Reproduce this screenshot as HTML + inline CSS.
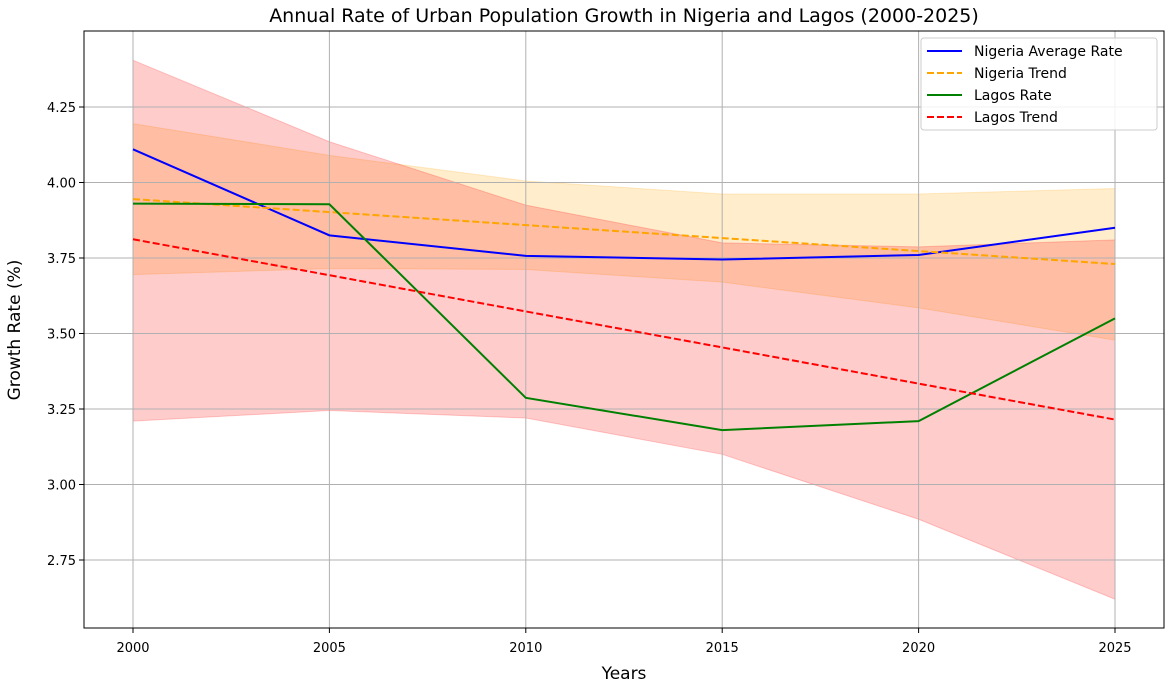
<!DOCTYPE html>
<html><head><meta charset="utf-8"><style>
body{margin:0;background:#fff;font-family:"Liberation Sans","DejaVu Sans",sans-serif}
svg text{font-family:"DejaVu Sans","Liberation Sans",sans-serif}
</style></head><body>
<svg id="chart" width="1170" height="684" xmlns="http://www.w3.org/2000/svg">
<text x="624" y="22" text-anchor="middle" font-size="19" fill="#000">Annual Rate of Urban Population Growth in Nigeria and Lagos (2000-2025)</text>
<g id="bands"></g><g id="grid"></g><g id="lines"></g>
<rect x="84" y="31" width="1080" height="597" fill="none" stroke="#000" stroke-width="1"/>
<g id="ticks"></g>
<text x="624" y="679" text-anchor="middle" font-size="17">Years</text>
<text transform="translate(20,330) rotate(-90)" text-anchor="middle" font-size="17">Growth Rate (%)</text>
<g>
<rect x="921" y="38" width="236" height="92" rx="3" fill="#fff" fill-opacity="0.85" stroke="#ccc"/>
<line x1="927" y1="51" x2="962" y2="51" stroke="#0000ff" stroke-width="2"/>
<text x="974" y="56" font-size="14">Nigeria Average Rate</text>
<line x1="927" y1="73" x2="962" y2="73" stroke="orange" stroke-width="2" stroke-dasharray="7,3"/>
<text x="974" y="78" font-size="14">Nigeria Trend</text>
<line x1="927" y1="95" x2="962" y2="95" stroke="green" stroke-width="2"/>
<text x="974" y="100" font-size="14">Lagos Rate</text>
<line x1="927" y1="117" x2="962" y2="117" stroke="red" stroke-width="2" stroke-dasharray="7,3"/>
<text x="974" y="122" font-size="14">Lagos Trend</text>
</g>
</svg>
<script>
const years=[2000,2005,2010,2015,2020,2025];
const nigeriaRate=[4.11,3.825,3.757,3.745,3.76,3.85];
const nigeriaTrend=[3.945,3.902,3.859,3.816,3.773,3.73];
const lagosRate=[3.93,3.928,3.287,3.18,3.21,3.55];
const lagosTrend=[3.812,3.693,3.573,3.454,3.334,3.215];
const nigeriaUpper=[4.195,4.09,4.005,3.962,3.962,3.98];
const nigeriaLower=[3.695,3.715,3.712,3.67,3.585,3.478];
const lagosUpper=[4.405,4.135,3.925,3.80,3.787,3.81];
const lagosLower=[3.21,3.245,3.22,3.10,2.885,2.62];
const yTicks=[2.75,3.00,3.25,3.50,3.75,4.00,4.25];
const xTicks=[2000,2005,2010,2015,2020,2025];
const NS="http://www.w3.org/2000/svg";
const X=y=>133+(y-2000)*(982/25);
const Y=v=>107+(4.25-v)*302;
function mk(tag,parent,attrs){const e=document.createElementNS(NS,tag);for(const k in attrs)e.setAttribute(k,attrs[k]);document.getElementById(parent).appendChild(e);return e;}
xTicks.forEach(t=>{
 const g=mk('line','grid',{x1:X(t),x2:X(t),y1:31,y2:628,stroke:'#b0b0b0','stroke-width':1});
 
 
 const tk=mk('line','ticks',{x1:X(t),x2:X(t),y1:628,y2:633,stroke:'#000'});
 
 
 const l=mk('text','ticks',{x:X(t),y:652,'text-anchor':'middle','font-size':13});
 l.textContent=t;
 
 
});
yTicks.forEach(t=>{
 const g=mk('line','grid',{x1:84,x2:1164,y1:Y(t),y2:Y(t),stroke:'#b0b0b0','stroke-width':1});
 
 
 const tk=mk('line','ticks',{x1:79,x2:84,y1:Y(t),y2:Y(t),stroke:'#000'});
 
 
 const l=mk('text','ticks',{x:76,y:Y(t)+5,'text-anchor':'end','font-size':13});
 l.textContent=t.toFixed(2);
 
 
});
function band(up,lo,color,name){
 let pts=years.map((y,i)=>X(y)+','+Y(up[i]));
 pts=pts.concat(years.map((y,i)=>X(y)+','+Y(lo[i])).reverse());
 const p=mk('polygon','bands',{points:pts.join(' '),fill:color,'fill-opacity':0.2,stroke:color,'stroke-opacity':0.2});
 
 
}
band(nigeriaUpper,nigeriaLower,'orange','nigeria-confidence-band');
band(lagosUpper,lagosLower,'red','lagos-confidence-band');
function line(vals,color,dash,name){
 const p=mk('polyline','lines',{points:years.map((y,i)=>X(y)+','+Y(vals[i])).join(' '),fill:'none',stroke:color,'stroke-width':2,'stroke-dasharray':dash||'none'});
 
 
}
line(nigeriaRate,'#0000ff',null,'nigeria-average-line');
line(nigeriaTrend,'orange','7,3','nigeria-trend-line');
line(lagosRate,'green',null,'lagos-rate-line');
line(lagosTrend,'red','7,3','lagos-trend-line');
</script>
</body></html>
